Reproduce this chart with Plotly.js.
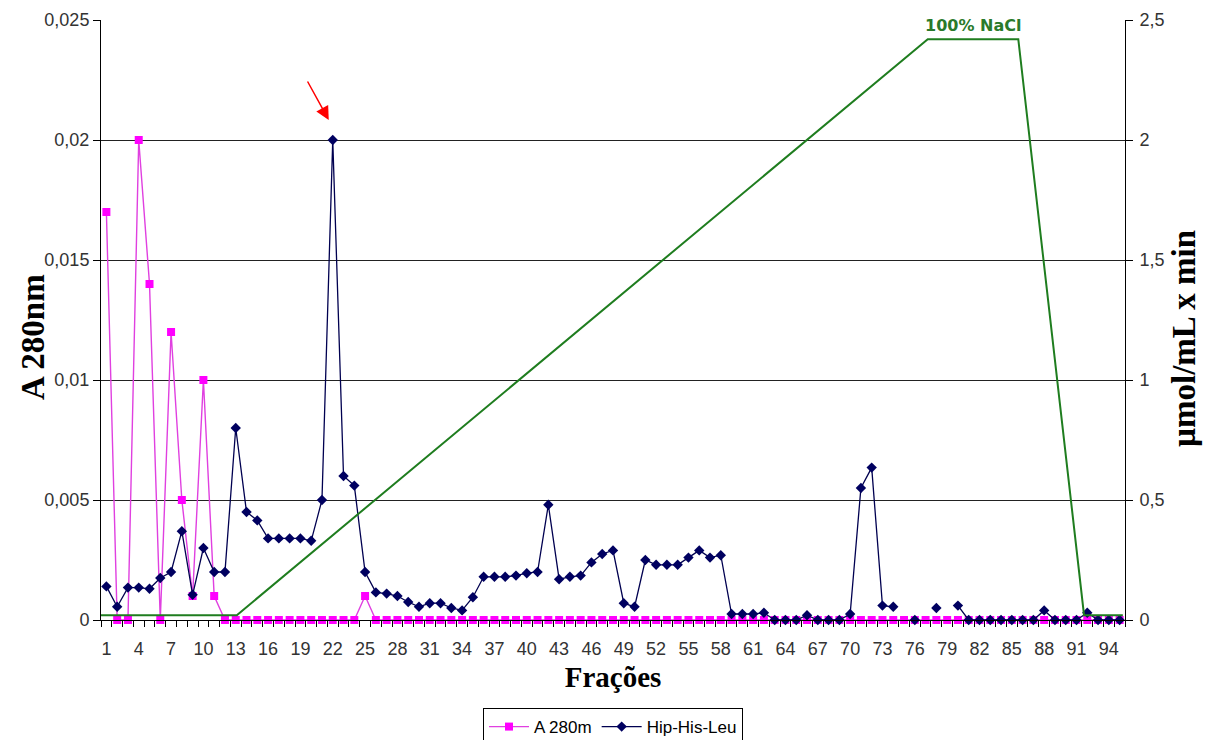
<!DOCTYPE html>
<html>
<head>
<meta charset="utf-8">
<script src="https://cdn.plot.ly/plotly-3.0.1.min.js"></script>
<style>html,body{margin:0;padding:0;background:#fff;}#chart{width:1207px;height:740px;}</style>
</head>
<body>
<div id="chart"></div>
<script>
// Fractions (categories)
const fractions = [1,2,3,4,5,6,7,8,9,10,11,12,13,14,15,16,17,18,19,20,21,22,23,24,25,26,27,28,29,30,
  31,32,33,34,35,36,37,38,39,40,41,42,43,44,45,46,47,48,49,50,51,52,53,54,55,56,57,58,59,60,
  61,62,63,64,65,66,67,68,69,70,71,72,73,74,75,76,77,78,79,80,81,82,83,84,85,86,87,88,89,90,
  91,92,93,94,95];
const tickFractions = [1,4,7,10,13,16,19,22,25,28,31,34,37,40,43,46,49,52,55,58,61,64,67,70,73,76,79,82,85,88,91,94];

// A 280 (left axis)
const a280 = [0.017,0,0,0.02,0.014,0,0.012,0.005,0.001,0.01,0.001,0,0,0,0,0,0,0,0,0,
  0,0,0,0,0.001,0,0,0,0,0,0,0,0,0,0,0,0,0,0,0,
  0,0,0,0,0,0,0,0,0,0,0,0,0,0,0,0,0,0,0,0,
  0,0,0,0,0,0,0,0,0,0,0,0,0,0,0,0,0,0,0,0,
  0,0,0,0,0,0,0,0,0,0,0,0,0,0,0];

// Hip-His-Leu activity (right axis, µmol/mL x min)
const hipHisLeu = [0.14,0.055,0.135,0.135,0.13,0.175,0.2,0.37,0.105,0.3,0.2,0.2,0.8,0.45,0.415,0.34,0.34,0.34,0.34,0.33,
  0.5,2.0,0.6,0.56,0.2,0.115,0.11,0.1,0.075,0.055,0.07,0.07,0.05,0.04,0.095,0.18,0.18,0.18,0.185,0.195,
  0.2,0.48,0.17,0.18,0.185,0.24,0.275,0.29,0.07,0.055,0.25,0.23,0.23,0.23,0.26,0.29,0.26,0.27,0.025,0.025,
  0.025,0.03,0,0,0,0.02,0,0,0,0.025,0.55,0.635,0.06,0.055,null,0,null,0.05,null,0.06,
  0,0,0,0,0,0,0,0.04,0,0,0,0.03,0,0,0];

// NaCl gradient (right axis scale)
const gradientX = [0.5,13.1,77.2,85.6,91.7,95.3];
const gradientY = [0.02,0.02,2.42,2.42,0.02,0.02];
const gradientLabel = '100% NaCl';

const leftTicks = [0,0.005,0.01,0.015,0.02,0.025];
const rightTicks = [0,0.5,1,1.5,2,2.5];
const gridTicks = [0.005,0.01,0.015,0.02];

const peakIdx = hipHisLeu.indexOf(Math.max(...hipHisLeu.filter(v => v !== null)));

const tickFont = {family: 'Liberation Sans, Arial, sans-serif', size: 18, color: '#333'};
const titleFont = {family: 'Liberation Serif, Times New Roman, serif', size: 33, color: '#000', weight: 'bold'};

const traces = [
  {
    // carrier for the horizontal grid axis (no visible marks)
    x: [null], y: [null], type: 'scatter', mode: 'lines', showlegend: false, hoverinfo: 'skip',
    xaxis: 'x', yaxis: 'y3'
  },
  {
    x: fractions, y: a280, name: 'A 280m', type: 'scatter', mode: 'lines+markers',
    cliponaxis: false,
    line: {color: '#e040e0', width: 1.4},
    marker: {symbol: 'square', size: 8, color: '#ff00ff'},
    xaxis: 'x', yaxis: 'y'
  },
  {
    x: fractions, y: hipHisLeu, name: 'Hip-His-Leu', type: 'scatter', mode: 'lines+markers',
    connectgaps: false, cliponaxis: false,
    line: {color: '#000050', width: 1.3},
    marker: {symbol: 'diamond', size: 8, color: '#000060'},
    xaxis: 'x', yaxis: 'y2'
  },
  {
    x: gradientX, y: gradientY, name: 'NaCl', type: 'scatter', mode: 'lines',
    line: {color: '#1f7d1f', width: 2},
    showlegend: false, hoverinfo: 'skip',
    xaxis: 'x', yaxis: 'y2'
  }
];

const layout = {
  width: 1207, height: 740,
  margin: {l: 101, r: 82, t: 20, b: 120},
  paper_bgcolor: '#fff', plot_bgcolor: '#fff',
  separators: ',.',
  showlegend: true,
  legend: {
    orientation: 'h', x: 0.5, xanchor: 'center', xref: 'paper',
    y: 0.0432, yanchor: 'top', yref: 'container',
    bordercolor: '#000', borderwidth: 1, bgcolor: '#fff',
    font: {family: 'Liberation Sans, Arial, sans-serif', size: 17, color: '#000'},
    itemwidth: 40, tracegroupgap: 0
  },
  xaxis: {
    range: [0.5, 95.5], tickvals: tickFractions, ticktext: tickFractions.map(String),
    ticks: 'outside', ticklen: 12, tickcolor: 'rgba(0,0,0,0)',
    minor: {tick0: 0.5, dtick: 1, ticks: 'outside', ticklen: 6, tickcolor: '#000', tickwidth: 1, showgrid: false},
    showline: true, linecolor: '#000', linewidth: 1,
    showgrid: false, zeroline: false,
    tickfont: tickFont,
    title: {text: 'Frações', font: {family: 'Liberation Serif, Times New Roman, serif', size: 29, color: '#000', weight: 'bold'}, standoff: 9}
  },
  yaxis: {
    range: [0, 0.025], tickvals: leftTicks,
    ticks: 'outside', ticklen: 7, tickcolor: '#000',
    showline: true, linecolor: '#000', linewidth: 1,
    showgrid: false, zeroline: false,
    tickfont: tickFont, ticksuffix: '\u00a0'
  },
  yaxis2: {
    range: [0, 2.5], tickvals: rightTicks, overlaying: 'y', side: 'right', anchor: 'x',
    ticks: 'outside', ticklen: 7, tickcolor: '#000',
    showline: true, linecolor: '#000', linewidth: 1,
    showgrid: false, zeroline: false,
    tickfont: tickFont, ticklabelstandoff: 3
  },
  yaxis3: {
    range: [0, 0.025], tickvals: gridTicks, overlaying: 'y', anchor: 'x',
    showgrid: true, gridcolor: '#222', gridwidth: 1,
    showticklabels: false, ticks: '', showline: false, zeroline: false
  },
  annotations: [
    {
      text: 'A 280nm', textangle: -90, xref: 'paper', yref: 'paper',
      x: -0.0664, y: 0.4717, xanchor: 'center', yanchor: 'middle', showarrow: false,
      font: titleFont
    },
    {
      text: 'µmol/mL x min', textangle: -90, xref: 'paper', yref: 'paper',
      x: 1.0576, y: 0.47, xanchor: 'center', yanchor: 'middle', showarrow: false,
      font: titleFont
    },
    {
      text: gradientLabel, xref: 'x', yref: 'y2',
      x: (gradientX[2] + gradientX[3]) / 2, y: gradientY[2],
      yanchor: 'bottom', yshift: 2, showarrow: false,
      font: {family: 'DejaVu Sans, Verdana, sans-serif', size: 16, color: '#2a7a2a', weight: 'bold'}
    },
    {
      text: '', xref: 'x', yref: 'y2',
      x: fractions[peakIdx], y: hipHisLeu[peakIdx],
      xshift: -4, yshift: 20, ax: -22, ay: -40,
      showarrow: true, arrowcolor: '#ff0000', arrowwidth: 1.5, arrowhead: 2, arrowsize: 1.8
    }
  ]
};

Plotly.newPlot('chart', traces, layout, {displayModeBar: false, staticPlot: true});
</script>
</body>
</html>
